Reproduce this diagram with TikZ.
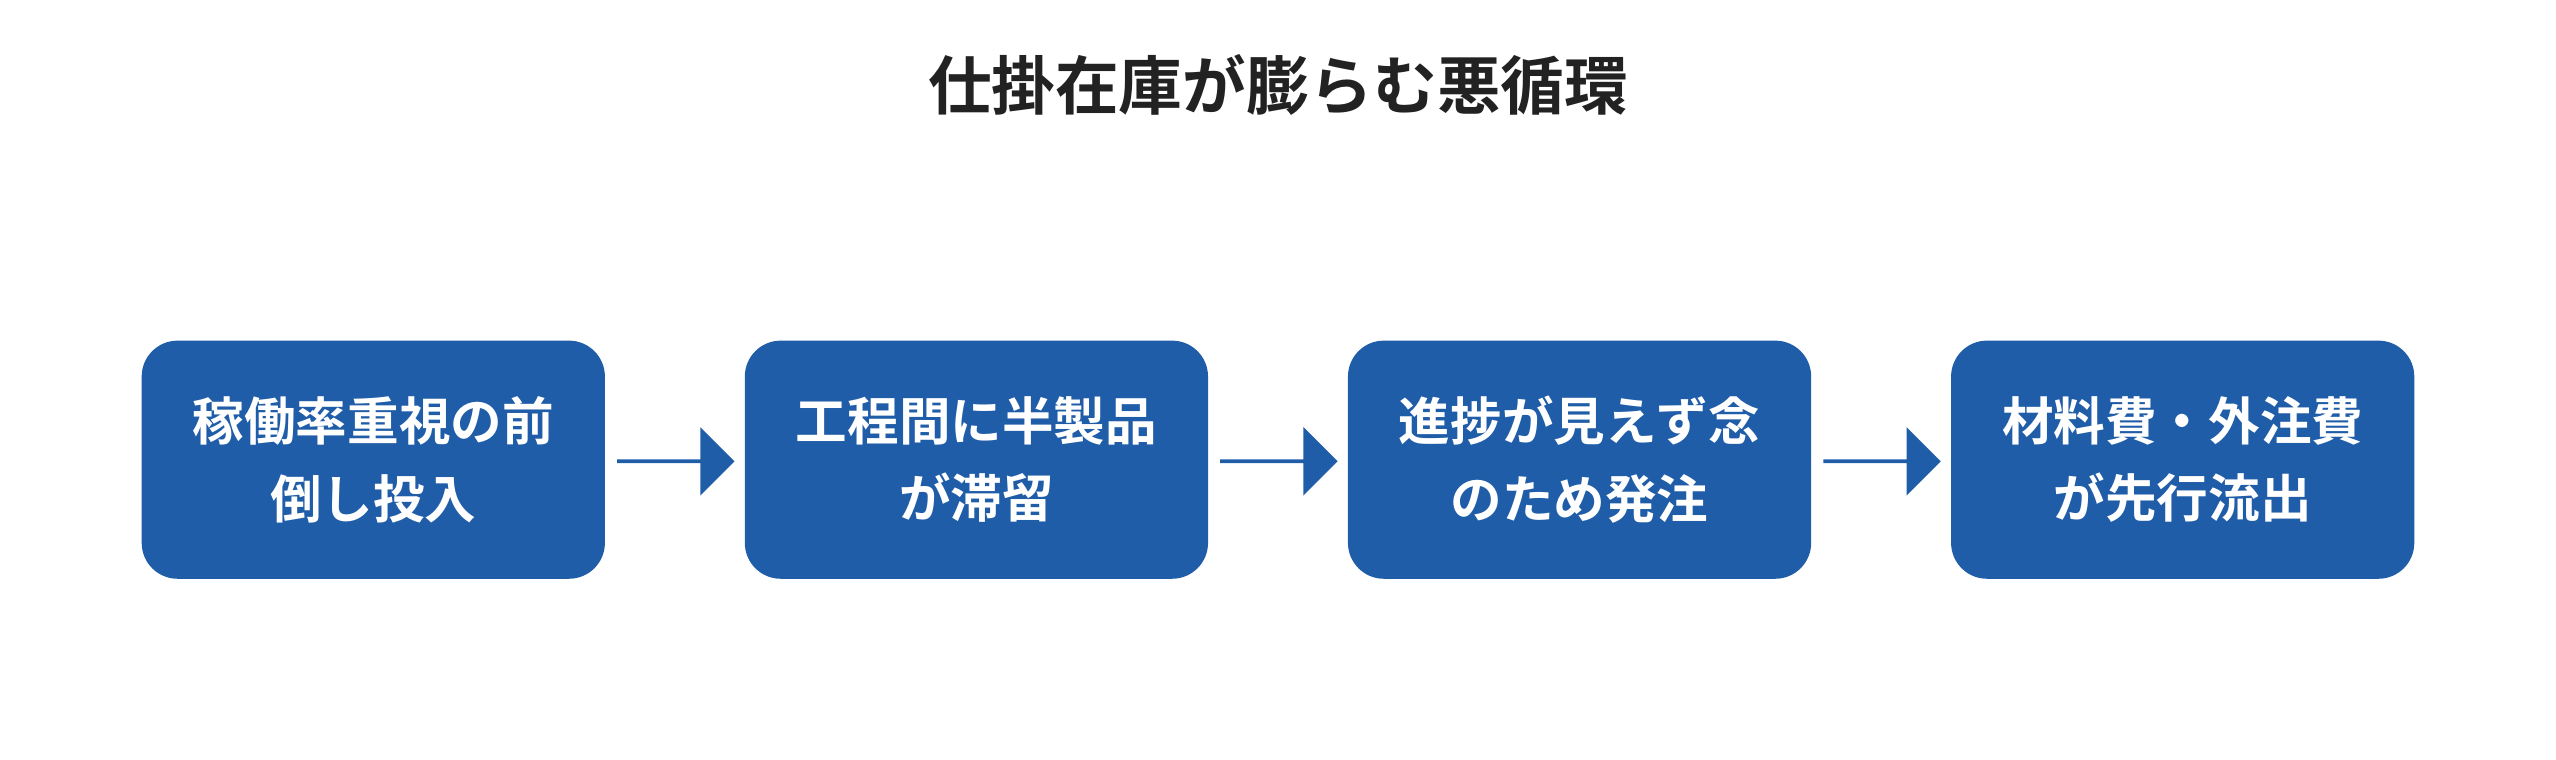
\documentclass[tikz,border=0pt]{standalone}
\usepackage{fontspec}
\setmainfont{Noto Sans CJK JP}[BoldFont={* Bold}]
\usetikzlibrary{shapes.arrows}
\definecolor{bx}{HTML}{205DA8}
\definecolor{tt}{HTML}{222222}
\begin{document}
\begin{tikzpicture}[x=0.01cm,y=-0.01cm,
 box/.style={fill=bx,rounded corners=0.22cm,minimum width=2.84cm,minimum height=1.46cm,text=white,font=\fontsize{9}{13.5}\selectfont\bfseries,align=center,inner sep=0pt},
 arr/.style={fill=bx,single arrow,single arrow head extend=0.12cm,minimum height=0.72cm,minimum width=0.42cm,inner sep=0pt}]
\useasboundingbox (0,0) rectangle (1568,466);
\node[font=\fontsize{11.1}{13}\selectfont\bfseries,text=tt] (t) at (784,52) {仕掛在庫が膨らむ悪循環};
\node[box] (a) at (229,282) {稼働率重視の前\\倒し投入};
\node[box] (b) at (599,282) {工程間に半製品\\が滞留};
\node[box] (c) at (969,282) {進捗が見えず念\\のため発注};
\node[box] (d) at (1339,282) {材料費・外注費\\が先行流出};
\node[arr] (r1) at (414,283) {};
\node[arr] (r2) at (784,283) {};
\node[arr] (r3) at (1154,283) {};
\end{tikzpicture}
\end{document}
